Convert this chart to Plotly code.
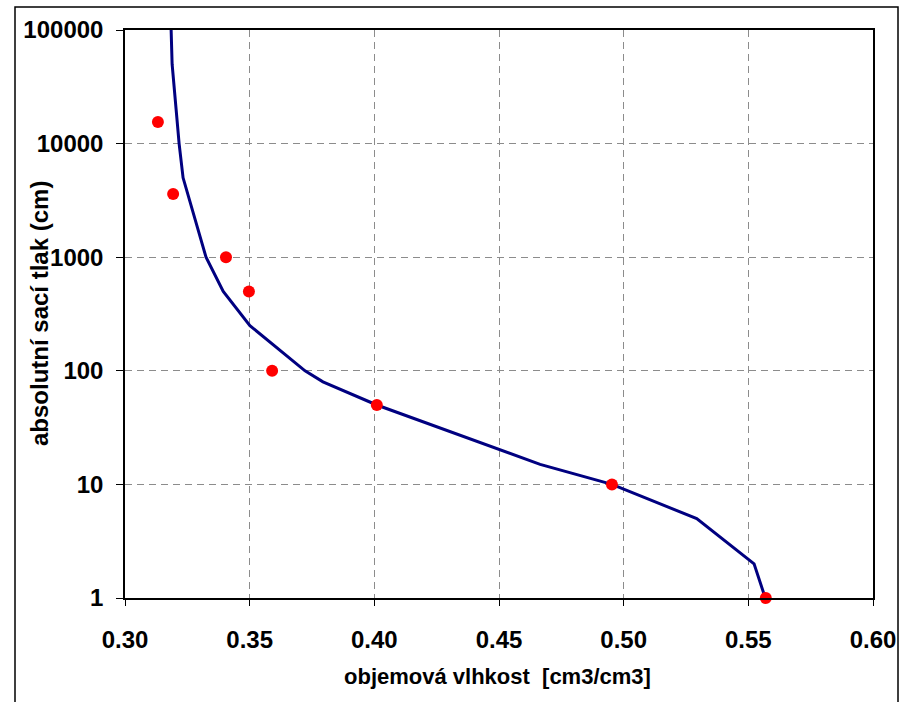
import plotly.graph_objects as go

# Model curve (retention curve)
curve_theta = [0.3185, 0.3189, 0.3205, 0.3217, 0.3233, 0.3325, 0.3394, 0.3501,
               0.3722, 0.3794, 0.4010, 0.4504, 0.4665, 0.4953, 0.5293, 0.5523, 0.5568]
curve_h = [100000, 50000, 20000, 10000, 5000, 1000, 500, 250,
           100, 80, 50, 20, 15, 10, 5, 2, 1]

# Measured points
meas_theta = [0.3132, 0.3193, 0.3405, 0.3497, 0.3590, 0.4010, 0.4953, 0.5570]
meas_h = [15500, 3600, 1000, 500, 100, 50, 10, 1]

x_ticks = [0.30, 0.35, 0.40, 0.45, 0.50, 0.55, 0.60]
y_ticks = [1, 10, 100, 1000, 10000, 100000]
y_ticktext = ["1", "10", "100", "1000", "10000", "100000"]

x_title = "objemová vlhkost  [cm3/cm3]"
y_title = "absolutní sací tlak (cm)"

FONT = "Liberation Sans, Arial, sans-serif"

fig = go.Figure()
fig.add_trace(go.Scatter(x=curve_theta, y=curve_h, mode="lines",
                         line=dict(color="#000080", width=3), showlegend=False,
                         cliponaxis=False))
fig.add_trace(go.Scatter(x=meas_theta, y=meas_h, mode="markers",
                         marker=dict(color="#ff0000", size=12, line=dict(width=0)),
                         showlegend=False, cliponaxis=False))

fig.update_layout(
    width=907, height=702,
    margin=dict(l=125, r=34, t=30, b=104),
    paper_bgcolor="white", plot_bgcolor="white",
    font=dict(family=FONT, color="black"),
    showlegend=False,
)

fig.update_xaxes(
    range=[0.30, 0.60], tickvals=x_ticks, tickformat=".2f",
    showgrid=True, gridcolor="#8c8c8c", griddash="7px,5px", gridwidth=1,
    showline=True, linecolor="black", linewidth=1.5, mirror=True,
    ticks="outside", ticklen=6, tickcolor="black", tickwidth=1,
    tickfont=dict(size=24, family=FONT, weight="bold"),
    ticklabelstandoff=13, zeroline=False,
)
fig.update_yaxes(
    type="log", range=[0, 5], tickvals=y_ticks, ticktext=y_ticktext,
    showgrid=True, gridcolor="#8c8c8c", griddash="7px,5px", gridwidth=1,
    showline=True, linecolor="black", linewidth=1.5, mirror=True,
    ticks="outside", ticklen=7, tickcolor="black", tickwidth=1,
    tickfont=dict(size=24, family=FONT, weight="bold"),
    ticklabelstandoff=8, zeroline=False,
)

fig.add_annotation(text=x_title, xref="paper", yref="paper",
                   x=(497 - 125) / 748, y=(598 - 676) / 568,
                   showarrow=False, xanchor="center", yanchor="middle",
                   font=dict(size=22, family=FONT, weight="bold"))
fig.add_annotation(text=y_title, xref="paper", yref="paper",
                   x=(39 - 125) / 748, y=(598 - 314) / 568, textangle=-90,
                   showarrow=False, xanchor="center", yanchor="middle",
                   font=dict(size=24, family=FONT, weight="bold"))

# outer chart frame
fig.add_shape(type="rect", xref="paper", yref="paper",
              x0=(15 - 125) / 748, x1=(898 - 125) / 748,
              y0=(598 - 706) / 568, y1=(598 - 7) / 568,
              line=dict(color="black", width=1.5), fillcolor="rgba(0,0,0,0)",
              layer="below")

fig.write_html("out.html", config={"displayModeBar": False},
               post_script="document.body.style.margin='0';document.body.style.overflow='hidden';")
